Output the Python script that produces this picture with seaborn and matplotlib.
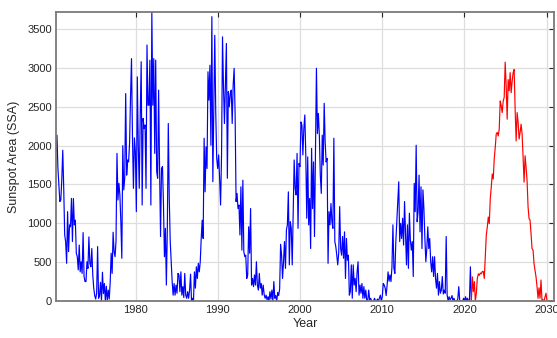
import numpy as np
import pandas as pd
import matplotlib
matplotlib.use("Agg")
import matplotlib.pyplot as plt
import seaborn as sns

# Observed monthly-resolution sunspot area, 1970.3 – 2020.85 (evenly sampled)
observed_ssa = [
    # 1970 – 1977
    1920, 2135, 1710, 1490, 1280, 1300, 1560, 1940, 1450, 850, 760, 485, 1150, 635, 980, 955,
    1320, 765, 1320, 980, 1040, 615, 570, 400, 720, 375, 505, 355, 880, 315, 250, 250,
    505, 420, 825, 485, 440, 675, 335, 165, 70, 25, 100, 700, 35, 70, 240, 0,
    370, 95, 225, 0, 190, 10, 140, 25, 240, 615, 355, 885,
    # 1977 – 1985
    635, 570, 765, 1900, 1300, 1515, 1365, 1020, 550, 2000, 1430, 1580, 2670, 1620, 1815, 1790,
    2030, 2630, 3120, 2115, 1450, 2100, 1920, 1150, 2885, 2005, 1450, 2370, 3080, 1235, 2350, 2220,
    2265, 1450, 3295, 2520, 2520, 3100, 1235, 3720, 2520, 3120, 1900, 3100, 1665, 1580, 2715, 1705,
    830, 1705, 1730, 1255, 570, 935, 205, 935, 2285, 1320, 765, 505, 250, 75, 225, 75,
    205, 100, 355,
    # 1985 – 1992
    335, 120, 375, 75, 185, 45, 355, 75, 35, 120, 35, 140, 345, 0, 35, 0,
    375, 165, 440, 290, 485, 375, 505, 805, 1040, 805, 2095, 1405, 1985, 1705, 2950, 2585,
    3035, 2005, 3660, 1535, 2435, 3420, 2435, 1835, 1705, 1880, 1580, 1235, 1880, 3400, 2755, 2285,
    2780, 3315, 1580, 2695, 2500, 2670, 2715, 2285, 2780, 2995, 2415, 1280, 1385, 1190, 1235, 850,
    1470,
    # 1992 – 2000
    655, 1555, 635, 570, 590, 290, 335, 955, 615, 1190, 205, 290, 185, 335, 205, 505,
    205, 140, 355, 165, 225, 75, 205, 85, 35, 75, 15, 55, 0, 120, 25, 140,
    0, 250, 35, 70, 0, 110, 70, 155, 730, 590, 290, 505, 765, 420, 915, 980,
    1405, 465, 1020, 935, 465, 1170, 1815, 1450, 1365, 1900, 935, 1770, 1730, 2305, 2265, 1880,
    2220,
    # 2000 – 2008
    2395, 1880, 1065, 1855, 980, 1320, 675, 1965, 1190, 1790, 830, 1880, 2995, 2155, 2415, 2135,
    1620, 1385, 2135, 1750, 2545, 2050, 1790, 1835, 485, 1150, 980, 1255, 1020, 935, 2095, 765,
    700, 590, 465, 615, 1215, 675, 590, 830, 550, 890, 290, 805, 525, 590, 75, 120,
    465, 35, 465, 205, 290, 120, 375, 505, 75, 205, 100, 225, 35, 185, 35, 140,
    0,
    # 2008 – 2015
    0, 140, 15, 35, 0, 0, 0, 35, 0, 0, 25, 0, 35, 75, 0, 55,
    225, 205, 165, 70, 205, 375, 255, 335, 250, 440, 980, 420, 355, 765, 1020, 1300,
    1535, 765, 1000, 805, 1065, 720, 1280, 850, 465, 980, 420, 1130, 785, 655, 765, 315,
    1515, 1150, 2005, 1020, 1150, 1620, 890, 1470, 675, 1430, 1190, 805, 505, 675, 955,
    # 2015 – 2020
    675, 805, 505, 375, 570, 315, 570, 290, 165, 355, 75, 250, 100, 140, 315, 90,
    140, 100, 830, 75, 0, 55, 15, 35, 70, 0, 35, 0, 0, 0, 25, 185,
    0, 0, 0, 0, 35, 0, 55, 0, 35, 0, 0, 440, 10,
]

# Predicted cycle 25, 2020.85 – 2030.9
forecast_ssa = [
    0, 310, 120, 250, 0, 100, 290, 350, 330, 360, 350, 380, 380, 290, 570, 845,
    950, 1080, 995, 1315, 1465, 1635, 1570, 1830, 1975, 2150, 2170, 2125, 2210, 2575, 2510, 2425,
    2575, 2620, 3075, 2765, 2340, 2850, 2705, 2940, 2680, 2830, 2940, 2980, 2470, 2060, 2425, 2300,
    2085, 2170, 2275, 2150, 1850, 1530, 1870, 1720, 1550, 1210, 1060, 1040, 865, 675, 655, 480,
    395, 310, 185, 35, 170, 35, 270, 0, 15, 0, 50, 100, 0, 0, 0, 0, 0, 0, 0, 0,
]

observed_span = (1970.3, 2020.85)
forecast_span = (2020.85, 2030.9)
year_ticks = [1980, 1990, 2000, 2010, 2020, 2030]
ssa_ticks = [0, 500, 1000, 1500, 2000, 2500, 3000, 3500]

observed = pd.DataFrame({
    "Year": np.linspace(*observed_span, len(observed_ssa)),
    "SSA": observed_ssa,
})
forecast = pd.DataFrame({
    "Year": np.linspace(*forecast_span, len(forecast_ssa)),
    "SSA": forecast_ssa,
})

sns.set_theme(style="whitegrid")
plt.rcParams["font.family"] = ["Liberation Sans", "DejaVu Sans"]

fig = plt.figure(figsize=(5.57, 3.38), dpi=100)
ax = fig.add_axes([0.1005, 0.1095, 0.894, 0.855])

sns.lineplot(data=observed, x="Year", y="SSA", color="#0000ff", lw=0.85,
             sort=False, estimator=None, ax=ax)
sns.lineplot(data=forecast, x="Year", y="SSA", color="#ff0000", lw=0.85,
             sort=False, estimator=None, ax=ax)

ax.set_xlim(observed["Year"].min(), forecast["Year"].max())
ax.set_ylim(0, max(max(observed_ssa), max(forecast_ssa)))
ax.set_xticks(year_ticks)
ax.set_yticks(ssa_ticks)

ax.grid(True, color="#dedede", lw=0.9)
ax.set_facecolor("white")
for side in ax.spines.values():
    side.set_visible(True)
    side.set_color("#7a7a7a")
    side.set_linewidth(1.3)

ax.tick_params(direction="in", top=True, right=True, length=3.5, width=0.8,
               color="#262626", labelsize=8, labelcolor="#262626", pad=3)
ax.set_xlabel("Year", fontsize=9, color="#262626", labelpad=2)
ax.set_ylabel("Sunspot Area (SSA)", fontsize=9, color="#262626", labelpad=5)

fig.savefig("out.png", dpi=100)
